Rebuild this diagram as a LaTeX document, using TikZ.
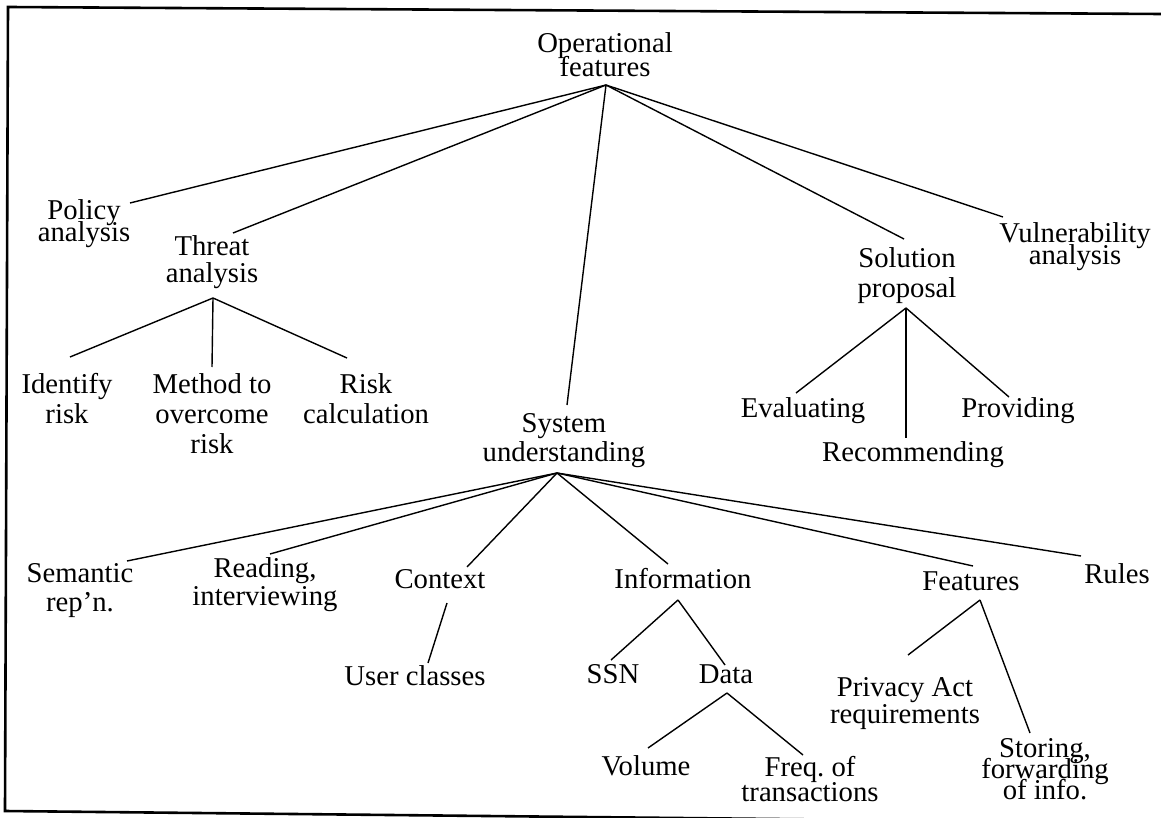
\documentclass[tikz,border=0pt]{standalone}
\usepackage{fontspec}
\setmainfont{Liberation Serif}
\newcommand{\treefont}[1]{\fontsize{28.7}{#1}\selectfont\lineskiplimit=-\maxdimen}

\begin{document}
\begin{tikzpicture}[
		x=1pt, y=-1pt,
		% multi-line labels sit on the baseline of their last line
		leaf/.style={align=center, inner sep=0pt, anchor=base, font=\treefont{29}},
		lead/.style={font=\treefont{#1}},
		branch/.style={line width=1.4pt},
		frame/.style={line width=2.6pt}
		]
		\useasboundingbox (0,0) rectangle (1161,818);
		\clip (0,0) rectangle (1161,818);
		
		% --- Outer frame (scanned, slightly tilted) ---
		\draw[frame] (1161,14) -- (8,7) -- (5,811) -- (1161,823);
		
		% --- Root ---
		\node[leaf, lead=24] (opfeat) at (605,77) {Operational\\features};
		\coordinate (opfeat_j) at (606,85);
		
		% --- First level ---
		\node[leaf, lead=22] (policy) at (84,242) {Policy\\analysis};
		\node[leaf, lead=28] (threat) at (212,283) {Threat\\analysis};
		\node[leaf] (system) at (564,461) {System\\understanding};
		\node[leaf] (solution) at (907,297) {Solution\\proposal};
		\node[leaf, lead=22] (vuln) at (1075,265) {Vulnerability\\analysis};
		
		\coordinate (policy_t) at (130,203);
		\coordinate (threat_t) at (233,233);
		\coordinate (system_t) at (567,405);
		\coordinate (solution_t) at (904,239);
		\coordinate (vuln_t) at (1003,217);
		
		\draw[branch] (opfeat_j) -- (policy_t);
		\draw[branch] (opfeat_j) -- (threat_t);
		\draw[branch] (opfeat_j) -- (system_t);
		\draw[branch] (opfeat_j) -- (solution_t);
		\draw[branch] (opfeat_j) -- (vuln_t);
		
		% --- Threat analysis branch ---
		\coordinate (threat_j) at (213,298);
		\node[leaf, lead=30] (identify) at (67,423) {Identify\\risk};
		\node[leaf, lead=30] (method) at (212,453) {Method to\\overcome\\risk};
		\node[leaf, lead=30] (riskcalc) at (366,423) {Risk\\calculation};
		
		\coordinate (identify_t) at (70,357);
		\coordinate (method_t) at (212,367);
		\coordinate (riskcalc_t) at (347,358);
		
		\draw[branch] (threat_j) -- (identify_t);
		\draw[branch] (threat_j) -- (method_t);
		\draw[branch] (threat_j) -- (riskcalc_t);
		
		% --- Solution proposal branch ---
		\coordinate (solution_j) at (906,308);
		\node[leaf] (evaluating) at (803,417) {Evaluating};
		\node[leaf] (recommending) at (913,461) {Recommending};
		\node[leaf] (providing) at (1018,417) {Providing};
		
		\coordinate (evaluating_t) at (796,393);
		\coordinate (recommending_t) at (906,438);
		\coordinate (providing_t) at (1009,397);
		
		\draw[branch] (solution_j) -- (evaluating_t);
		\draw[branch] (solution_j) -- (recommending_t);
		\draw[branch] (solution_j) -- (providing_t);
		
		% --- System understanding branch ---
		\coordinate (system_j) at (557,473);
		\node[leaf] (semantic) at (80,611) {Semantic\\rep'n.};
		\node[leaf, lead=28] (reading) at (265,605) {Reading,\\interviewing};
		\node[leaf] (context) at (440,588) {Context};
		\node[leaf] (information) at (683,588) {Information};
		\node[leaf] (features) at (971,590) {Features};
		\node[leaf] (rules) at (1117,583) {Rules};
		
		\coordinate (semantic_t) at (127,561);
		\coordinate (reading_t) at (270,554);
		\coordinate (context_t) at (467,567);
		\coordinate (information_t) at (668,564);
		\coordinate (features_t) at (973,566);
		\coordinate (rules_t) at (1081,556);
		
		\draw[branch] (system_j) -- (semantic_t);
		\draw[branch] (system_j) -- (reading_t);
		\draw[branch] (system_j) -- (context_t);
		\draw[branch] (system_j) -- (information_t);
		\draw[branch] (system_j) -- (features_t);
		\draw[branch] (system_j) -- (rules_t);
		
		% --- Context ---
		\coordinate (context_j) at (447,603);
		\node[leaf] (userclasses) at (415,685) {User classes};
		\coordinate (userclasses_t) at (428,663);
		\draw[branch] (context_j) -- (userclasses_t);
		
		% --- Information and data ---
		\coordinate (information_j) at (678,600);
		\node[leaf] (ssn) at (613,683) {SSN};
		\node[leaf] (data) at (726,683) {Data};
		\coordinate (ssn_t) at (611,660);
		\coordinate (data_t) at (725,665);
		\draw[branch] (information_j) -- (ssn_t);
		\draw[branch] (information_j) -- (data_t);
		
		\coordinate (data_j) at (727,693);
		\node[leaf] (volume) at (646,775) {Volume};
		\node[leaf, lead=25] (freq) at (810,801) {Freq.\ of\\transactions};
		\coordinate (volume_t) at (648,748);
		\coordinate (freq_t) at (803,755);
		\draw[branch] (data_j) -- (volume_t);
		\draw[branch] (data_j) -- (freq_t);
		
		% --- Features ---
		\coordinate (features_j) at (980,600);
		\node[leaf, lead=27] (privacy) at (905,723) {Privacy Act\\requirements};
		\node[leaf, lead=21] (storing) at (1045,799) {Storing,\\forwarding\\of info.};
		\coordinate (privacy_t) at (908,655);
		\coordinate (storing_t) at (1030,733);
		\draw[branch] (features_j) -- (privacy_t);
		\draw[branch] (features_j) -- (storing_t);
		
	\end{tikzpicture}
\end{document}
